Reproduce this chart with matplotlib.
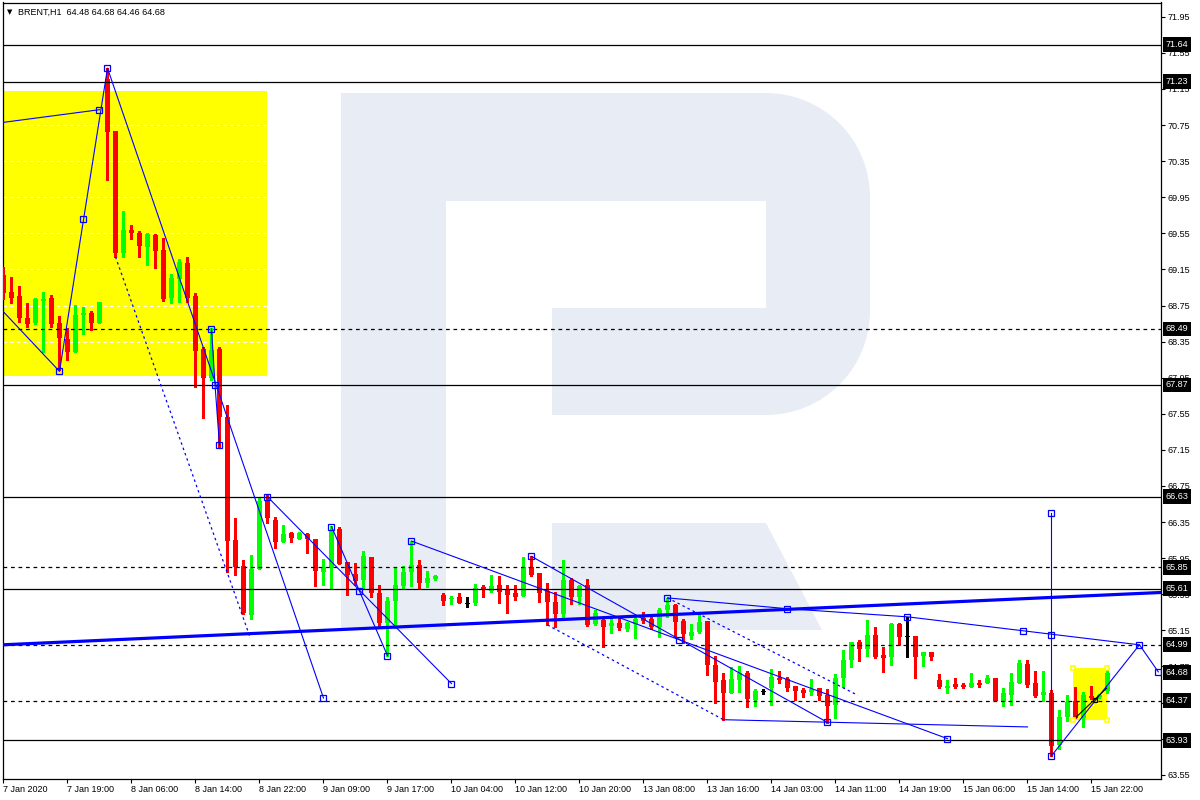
import matplotlib
matplotlib.use("Agg")
import matplotlib.pyplot as plt
from matplotlib.patches import Rectangle, Polygon, Wedge
from matplotlib.transforms import Affine2D
import numpy as np

# hourly OHLC, BRENT H1, 7 Jan 2020 - 15 Jan 2020
opens = [69.09, 68.90, 68.85, 68.61, 68.56, 68.80, 68.83, 68.56, 68.38, 68.24,
         68.65, 68.67, 68.56, 71.26, 70.68, 69.33, 69.59, 69.55, 69.40, 69.53,
         69.37, 68.83, 69.04, 69.22, 68.85, 68.27, 67.95, 68.27, 67.51, 66.15,
         65.86, 65.32, 65.83, 66.58, 66.37, 66.13, 66.23, 66.16, 66.22, 66.16,
         65.80, 65.85, 66.27, 65.91, 65.78, 65.71, 65.96, 65.56, 65.23, 65.48,
         65.64, 65.80, 65.87, 65.67, 65.72, 65.54, 65.50, 65.52, 65.45, 65.45,
         65.63, 65.59, 65.65, 65.61, 65.56, 65.53, 65.85, 65.79, 65.59, 65.47,
         65.33, 65.71, 65.52, 65.65, 65.22, 65.27, 65.20, 65.23, 65.17, 65.22,
         65.29, 65.28, 65.19, 65.38, 65.43, 65.25, 65.09, 65.13, 65.25, 64.77,
         64.60, 64.46, 64.60, 64.68, 64.38, 64.47, 64.51, 64.62, 64.61, 64.53,
         64.49, 64.47, 64.51, 64.43, 64.32, 64.62, 64.82, 65.02, 64.94, 65.10,
         64.88, 64.86, 65.22, 65.08, 65.09, 64.87, 64.91, 64.60, 64.51, 64.56,
         64.55, 64.52, 64.57, 64.57, 64.62, 64.36, 64.43, 64.57, 64.78, 64.57,
         64.43, 64.46, 63.88, 64.19, 64.37, 64.18, 64.42, 64.41, 64.48]
highs = [69.18, 69.07, 68.97, 68.78, 68.83, 68.90, 68.87, 68.63, 68.50, 68.76,
         68.73, 68.69, 68.79, 71.38, 70.68, 69.80, 69.64, 69.58, 69.55, 69.54,
         69.50, 69.10, 69.27, 69.29, 68.89, 68.29, 68.50, 68.29, 67.65, 66.40,
         65.93, 65.99, 66.63, 66.65, 66.41, 66.32, 66.24, 66.24, 66.23, 66.16,
         65.94, 66.31, 66.30, 65.91, 65.90, 66.03, 65.96, 65.65, 65.52, 65.84,
         65.86, 66.14, 65.93, 65.81, 65.76, 65.56, 65.53, 65.56, 65.52, 65.66,
         65.65, 65.76, 65.75, 65.65, 65.65, 65.96, 65.97, 65.79, 65.67, 65.58,
         65.93, 65.73, 65.65, 65.72, 65.38, 65.28, 65.30, 65.30, 65.24, 65.32,
         65.35, 65.32, 65.40, 65.51, 65.44, 65.28, 65.22, 65.35, 65.25, 64.87,
         64.68, 64.74, 64.76, 64.70, 64.50, 64.50, 64.72, 64.70, 64.63, 64.53,
         64.51, 64.61, 64.51, 64.50, 64.67, 64.93, 65.02, 65.04, 65.27, 65.19,
         64.97, 65.23, 65.23, 65.30, 65.09, 64.91, 64.91, 64.67, 64.60, 64.62,
         64.57, 64.68, 64.60, 64.65, 64.62, 64.51, 64.68, 64.82, 64.82, 64.70,
         64.70, 64.49, 64.27, 64.43, 64.52, 64.47, 64.53, 64.45, 64.74]
lows = [68.82, 68.78, 68.57, 68.51, 68.55, 68.24, 68.51, 68.04, 68.15, 68.24,
        68.43, 68.48, 68.56, 70.14, 69.29, 69.29, 69.49, 69.29, 69.20, 69.17,
        68.80, 68.78, 68.79, 68.79, 67.85, 67.50, 67.92, 67.18, 65.80, 65.76,
        65.33, 65.28, 65.83, 66.34, 66.06, 66.13, 66.13, 66.16, 66.01, 65.64,
        65.65, 65.61, 65.89, 65.54, 65.65, 65.62, 65.52, 65.19, 64.87, 65.18,
        65.61, 65.64, 65.61, 65.63, 65.71, 65.43, 65.44, 65.45, 65.41, 65.43,
        65.52, 65.58, 65.45, 65.34, 65.49, 65.53, 65.75, 65.47, 65.21, 65.19,
        65.30, 65.44, 65.44, 65.20, 65.21, 64.97, 65.12, 65.15, 65.14, 65.07,
        65.23, 65.17, 65.08, 65.30, 65.08, 65.01, 65.05, 65.12, 64.66, 64.35,
        64.16, 64.46, 64.47, 64.30, 64.31, 64.45, 64.32, 64.57, 64.48, 64.38,
        64.41, 64.43, 64.38, 64.12, 64.18, 64.52, 64.74, 64.81, 64.87, 64.84,
        64.69, 64.77, 64.99, 64.86, 64.62, 64.76, 64.82, 64.51, 64.46, 64.51,
        64.51, 64.52, 64.52, 64.57, 64.37, 64.31, 64.32, 64.57, 64.52, 64.41,
        64.37, 63.76, 63.84, 64.15, 64.18, 64.08, 64.39, 64.40, 64.46]
closes = [68.89, 68.83, 68.61, 68.55, 68.82, 68.82, 68.55, 68.39, 68.24, 68.65,
          68.67, 68.56, 68.79, 70.67, 69.33, 69.59, 69.55, 69.41, 69.54, 69.35,
          68.82, 69.06, 69.23, 68.83, 68.25, 67.95, 68.26, 67.51, 66.14, 65.85,
          65.34, 65.83, 66.58, 66.39, 66.13, 66.22, 66.17, 66.23, 66.16, 65.81,
          65.85, 66.26, 65.89, 65.76, 65.70, 65.97, 65.56, 65.23, 65.48, 65.65,
          65.80, 65.87, 65.67, 65.73, 65.75, 65.48, 65.51, 65.45, 65.45, 65.62,
          65.61, 65.64, 65.58, 65.54, 65.52, 65.85, 65.76, 65.56, 65.47, 65.33,
          65.71, 65.52, 65.64, 65.21, 65.34, 65.19, 65.23, 65.18, 65.23, 65.28,
          65.25, 65.19, 65.38, 65.43, 65.24, 65.11, 65.13, 65.24, 64.77, 64.58,
          64.46, 64.61, 64.68, 64.39, 64.48, 64.47, 64.63, 64.60, 64.51, 64.48,
          64.46, 64.50, 64.42, 64.31, 64.62, 64.82, 65.02, 64.94, 65.10, 64.86,
          64.84, 65.22, 65.08, 65.08, 64.86, 64.91, 64.86, 64.52, 64.53, 64.52,
          64.52, 64.57, 64.55, 64.62, 64.37, 64.46, 64.58, 64.79, 64.55, 64.42,
          64.47, 63.87, 64.19, 64.36, 64.18, 64.43, 64.40, 64.43, 64.68]

time_labels = ["7 Jan 2020", "7 Jan 19:00", "8 Jan 06:00", "8 Jan 14:00", "8 Jan 22:00",
               "9 Jan 09:00", "9 Jan 17:00", "10 Jan 04:00", "10 Jan 12:00", "10 Jan 20:00",
               "13 Jan 08:00", "13 Jan 16:00", "14 Jan 03:00", "14 Jan 11:00", "14 Jan 19:00",
               "15 Jan 06:00", "15 Jan 14:00", "15 Jan 22:00"]
price_ticks = [71.95, 71.55, 71.15, 70.75, 70.35, 69.95, 69.55, 69.15, 68.75, 68.35,
               67.95, 67.55, 67.15, 66.75, 66.35, 65.95, 65.55, 65.15, 64.75, 64.35,
               63.95, 63.55]
solid_levels = [71.64, 71.23, 67.87, 66.63, 65.61, 63.93]
dashed_levels = [68.49, 65.85, 64.99, 64.37]
last_price = 64.68
header = "BRENT,H1  64.48 64.68 64.46 64.68"

# analysis drawings, anchors as (bar, price)
wave_a = [(0, 70.78), (12, 70.92)]
wave_b = [(0, 68.68), (7, 68.02), (13, 71.38), (40, 64.40)]
wave_q = [(26, 68.49), (26.44, 67.87), (27, 67.20)]
wave_r = [(33, 66.63), (56, 64.56)]
wave_s = [(41, 66.30), (48, 64.87)]
wave_t = [(51, 66.14), (118, 63.95)]
wave_u = [(66, 65.97), (103, 64.13)]
wave_f = [(90, 64.16), (128, 64.08)]
wave_v = [(83, 65.51), (98, 65.39), (113, 65.30), (142, 64.99), (144.35, 64.69)]
wave_x = [(131, 63.76), (142, 64.99)]
wave_w = [(131, 66.45), (131, 63.76)]
dots_1 = [(14, 69.29), (30.8, 65.08)]
dots_2 = [(68, 65.21), (90, 64.16)]
dots_3 = [(83, 65.51), (106.8, 64.43)]
trend = [(-0.125, 64.99), (144.69, 65.57)]
black_leg = [(134.1, 64.19), (137.9, 64.51)]
anchors = [(12, 70.92), (7, 68.02), (10, 69.71), (13, 71.38), (26.44, 67.87), (40, 64.40),
           (26, 68.49), (27, 67.20), (33, 66.63), (44.48, 65.59), (56, 64.56),
           (41, 66.30), (48, 64.87), (51, 66.14), (84.48, 65.04), (118, 63.95),
           (66, 65.97), (103, 64.13), (83, 65.51), (98, 65.39), (113, 65.30),
           (127.5, 65.14), (142, 64.99), (144.35, 64.69), (131, 66.45), (131, 65.10),
           (131, 63.76)]
box_big = (-0.2, 32.94, 67.97, 71.13)
box_small = (133.7, 138.0, 64.16, 64.73)

fig = plt.figure(figsize=(12, 8), dpi=100)
ax = fig.add_axes([2.5 / 1200, 21 / 800, 1158.5 / 1200, 776.5 / 800])
px = Affine2D().scale(0.01, -0.01).translate(0, 8) + fig.dpi_scale_trans
font = ['Liberation Sans', 'DejaVu Sans']

# watermark logo
logo = '#E8EDF5'
for p in [Rectangle((341, 93), 105, 537), Rectangle((446, 93), 320, 108),
          Rectangle((766, 197), 104, 114), Rectangle((552, 308), 214, 107),
          Wedge((766, 197), 104, 270, 360), Wedge((766, 311), 104, 0, 90),
          Polygon([(552, 523), (766, 523), (822, 630), (552, 630)])]:
    p.set_transform(px)
    p.set_facecolor(logo)
    p.set_edgecolor('none')
    p.set_zorder(0.6)
    ax.add_patch(p)

for x0, x1, y0, y1 in [box_big, box_small]:
    ax.add_patch(Rectangle((x0, y0), x1 - x0, y1 - y0, facecolor='#FFFF00',
                           edgecolor='none', zorder=0.2))
sx0, sx1, sy0, sy1 = box_small
ax.plot([sx0, sx1, sx0, sx1], [sy0, sy0, sy1, sy1], 's', ms=3.2, mfc='white',
        mec='#FFFF00', mew=1.2, zorder=8, ls='none')

ax.set_axisbelow(True)
ax.yaxis.grid(True, color='white', linestyle=(0, (3, 3)), linewidth=0.8)

# candles
x = np.arange(len(opens))
o, h, l, c = map(np.array, (opens, highs, lows, closes))
col = np.where(c > o, '#00FF00', np.where(c < o, '#FF0000', '#000000'))
ax.vlines(x, l, h, colors=col, linewidth=0.75, zorder=3, antialiased=False)
bh = np.maximum(np.abs(c - o), 0.012)
bb = np.where(c == o, o - 0.006, np.minimum(o, c))
ax.bar(x, bh, bottom=bb, width=0.7, color=col, linewidth=0, zorder=4,
       antialiased=False)

for lv in solid_levels:
    ax.axhline(lv, color='black', lw=0.9, zorder=5)
for lv in dashed_levels:
    ax.axhline(lv, color='black', lw=0.9, ls=(0, (3, 3)), zorder=5)

def draw(pts, **kw):
    xs, ys = zip(*pts)
    ax.plot(xs, ys, **kw)

blue = '#0000FF'
for w in [wave_a, wave_b, wave_q, wave_r, wave_s, wave_t, wave_u, wave_f, wave_v, wave_x, wave_w]:
    draw(w, color=blue, lw=0.8, zorder=6)
for d in [dots_1, dots_2, dots_3]:
    draw(d, color=blue, lw=0.9, ls=(0, (2, 2.5)), zorder=6)
draw(trend, color=blue, lw=2.3, zorder=6)
draw(black_leg, color='black', lw=0.8, zorder=6)
ax.plot([136.4], [64.38], 's', ms=3.5, mfc='none', mec='black', mew=0.9, zorder=7)
draw(anchors, ls='none', marker='s', ms=4.2, mfc='none', mec=blue, mew=0.9, zorder=7)

ax.set_xlim(-0.125, 144.69)
ax.set_ylim(63.503, 72.108)

ax.set_xticks(np.arange(0, len(opens), 8))
ax.set_xticklabels(time_labels, ha='left', fontsize=6.5, family=font)
ax.tick_params(axis='x', length=3, width=0.8, pad=1.5)
ax.yaxis.tick_right()
ax.set_yticks(price_ticks)
ax.set_yticklabels([f"{p:.2f}" for p in price_ticks], fontsize=6.5, family=font)
ax.tick_params(axis='y', length=3, width=0.8, pad=1.5)
for s in ax.spines.values():
    s.set_linewidth(0.9)

for lv in solid_levels + dashed_levels + [last_price]:
    ax.annotate(f"{lv:.2f}", xy=(1, lv), xycoords=('axes fraction', 'data'),
                xytext=(3.4, 0), textcoords='offset points', va='center', ha='left',
                color='white', fontsize=6.5, family=font, annotation_clip=False,
                bbox=dict(boxstyle='square,pad=0.32', fc='black', ec='none'), zorder=10)

ax.text(0.004, 0.988, '\u25BC', transform=ax.transAxes, fontsize=5, va='center',
        family='DejaVu Sans')
ax.text(0.0135, 0.988, header, transform=ax.transAxes, fontsize=6.5, va='center',
        family=font)

fig.savefig('out.png', dpi=100)
